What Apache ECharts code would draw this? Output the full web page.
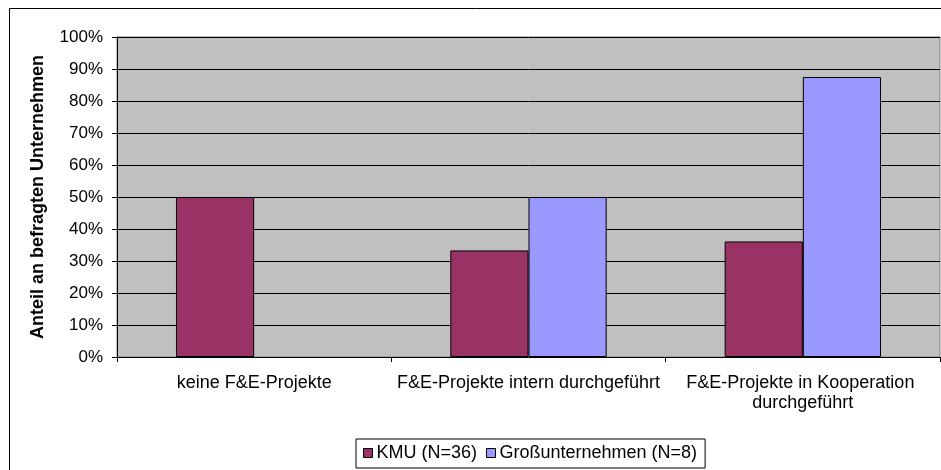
<!DOCTYPE html>
<html>
<head>
<meta charset="utf-8">
<script src="https://cdn.jsdelivr.net/npm/echarts@6/dist/echarts.min.js"></script>
<style>
html,body{margin:0;padding:0;background:#fff;}
#chart{width:941px;height:470px;}
</style>
</head>
<body>
<div id="chart"></div>
<script>
const categories = ["keine F&E-Projekte", "F&E-Projekte intern durchgeführt", "F&E-Projekte in Kooperation durchgeführt"];
const seriesNames = ["KMU (N=36)", "Großunternehmen (N=8)"];
const kmuValues = [0.50, 0.333, 0.361];
const grossValues = [0, 0.50, 0.875];
const yAxisTitle = "Anteil an befragten Unternehmen";

function barData(values) {
  return values.map(v => v === 0 ? {value: v, itemStyle: {borderWidth: 0}} : v);
}

const chart = echarts.init(document.getElementById('chart'), null, {renderer: 'canvas'});
const font = 'Liberation Sans, Arial, sans-serif';
chart.setOption({
  animation: false,
  backgroundColor: '#fff',
  textStyle: {fontFamily: font, color: '#000'},
  graphic: [{
    type: 'rect', z: 0,
    shape: {x: 9.5, y: 8.5, width: 1000, height: 1000},
    style: {fill: 'none', stroke: '#000', lineWidth: 1}
  }],
  grid: {
    left: 117, top: 37, right: 1, bottom: 113,
    containLabel: false, outerBoundsMode: 'none',
    show: true, backgroundColor: '#C0C0C0', borderColor: '#808080', borderWidth: 1
  },
  legend: {
    left: 356, top: 439,
    data: seriesNames,
    itemWidth: 9, itemHeight: 9, itemGap: 9,
    icon: 'rect',
    padding: [5, 8, 6, 7],
    borderColor: '#000', borderWidth: 1,
    textStyle: {fontFamily: font, fontSize: 18, color: '#000', padding: [0, 0, 0, -1]},
    itemStyle: {borderColor: '#000', borderWidth: 1}
  },
  xAxis: {
    type: 'category',
    data: categories,
    boundaryGap: true,
    axisLine: {show: true, lineStyle: {color: '#000', width: 1}},
    axisTick: {show: true, length: 5, lineStyle: {color: '#000'}},
    axisLabel: {
      fontFamily: font, fontSize: 18, color: '#000', margin: 16,
      lineHeight: 20, width: 272, overflow: 'break', interval: 0
    },
    splitLine: {show: false}
  },
  yAxis: {
    type: 'value',
    min: 0, max: 1, interval: 0.1,
    name: yAxisTitle,
    nameLocation: 'middle',
    nameGap: 70,
    nameRotate: 90,
    nameTextStyle: {fontFamily: font, fontSize: 18, fontWeight: 'bold', color: '#000'},
    axisLine: {show: true, lineStyle: {color: '#000', width: 1}},
    axisTick: {show: true, length: 5, lineStyle: {color: '#000'}},
    axisLabel: {
      fontFamily: font, fontSize: 17, color: '#000', margin: 14,
      formatter: v => Math.round(v * 100) + '%'
    },
    splitLine: {show: true, lineStyle: {color: '#000', width: 1}}
  },
  series: [
    {
      name: seriesNames[0], type: 'bar', data: barData(kmuValues),
      barGap: '0%', barCategoryGap: '43%',
      itemStyle: {color: '#993366', borderColor: '#000', borderWidth: 1}
    },
    {
      name: seriesNames[1], type: 'bar', data: barData(grossValues),
      barGap: '0%', barCategoryGap: '43%',
      itemStyle: {color: '#9999FF', borderColor: '#000', borderWidth: 1}
    }
  ]
});
</script>
</body>
</html>
